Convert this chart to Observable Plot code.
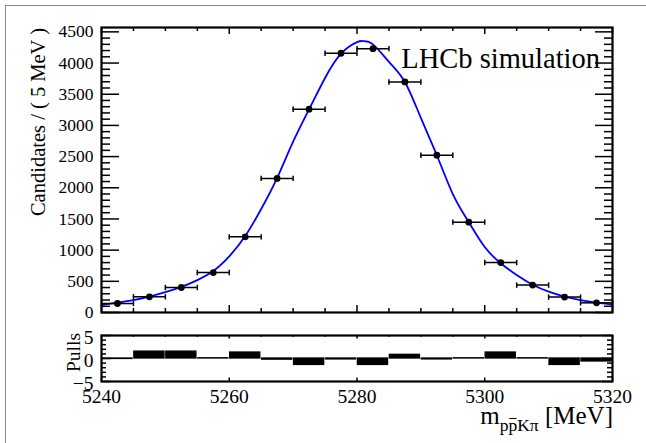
<!DOCTYPE html>
<html>
<head>
<meta charset="utf-8">
<script src="https://cdn.jsdelivr.net/npm/d3@7"></script>
<script src="https://cdn.jsdelivr.net/npm/@observablehq/plot@0.6"></script>
<style>
  html, body { margin: 0; padding: 0; background: #fff; }
  #wrap { position: relative; width: 646px; height: 443px; overflow: hidden; background: #fff; }
  #wrap > * { position: absolute; }
  #border { left: 5px; top: 4.5px; width: 700px; height: 500px; border-top: 1.5px solid #8a8a8a; border-left: 1.5px solid #8a8a8a; }
</style>
</head>
<body>
<div id="wrap"><div id="border"></div></div>
<script>
// ---------------- data ----------------
const binEdges = [5240, 5245, 5250, 5255, 5260, 5265, 5270, 5275, 5280, 5285, 5290, 5295, 5300, 5305, 5310, 5315, 5320];
const binCenters = [5242.5, 5247.5, 5252.5, 5257.5, 5262.5, 5267.5, 5272.5, 5277.5, 5282.5, 5287.5, 5292.5, 5297.5, 5302.5, 5307.5, 5312.5, 5317.5];
const candidates = [144, 252, 401, 641, 1213, 2150, 3260, 4157, 4231, 3697, 2522, 1449, 801, 439, 247, 155];
const pulls = [-0.1, 1.5, 1.5, 0.05, 1.3, -0.25, -1.4, -0.2, -1.4, 0.8, -0.2, 0.05, 1.3, 0.05, -1.4, -0.65];
const fitMass = [5240, 5242.5, 5245, 5247.5, 5250, 5252.5, 5255, 5257.5, 5260, 5262.5, 5265, 5267.5, 5270, 5272.5, 5275, 5277.5, 5280, 5281, 5282.5, 5285, 5287.5, 5290, 5292.5, 5295, 5297.5, 5300, 5302.5, 5305, 5307.5, 5310, 5312.5, 5315, 5317.5, 5320];
const fitValue = [123, 160, 200, 255, 325, 410, 520, 665, 900, 1225, 1660, 2160, 2740, 3260, 3760, 4150, 4335, 4352, 4300, 4020, 3697, 3120, 2522, 1900, 1449, 1050, 790, 600, 445, 335, 256, 200, 160, 128];
const xTicks = [5240, 5260, 5280, 5300, 5320];
const yTicks = [0, 500, 1000, 1500, 2000, 2500, 3000, 3500, 4000, 4500];
const pullTicks = [-5, 0, 5];
const yTitle = "Candidates / ( 5 MeV )";
const pullTitle = "Pulls";
const tag = "LHCb simulation";

// ---------------- derived tables ----------------
const points = binCenters.map((c, i) => ({c, lo: binEdges[i], hi: binEdges[i + 1], n: candidates[i], p: pulls[i]}));
const fit = fitMass.map((m, i) => ({m, v: fitValue[i]}));
const xMinor = d3.range(5240, 5321, 5).filter(v => !xTicks.includes(v));
const yMinor = d3.range(0, 4501, 100).filter(v => !yTicks.includes(v));
const pMinor = d3.range(-4, 5, 1).filter(v => !pullTicks.includes(v));

const FONT = "Liberation Serif";
const W = 646;
const mL = 101, mR = 34;
const innerW = W - mL - mR;

// cap symbol for error-bar ends
const cap = {draw(ctx) { ctx.moveTo(0, -2.7); ctx.lineTo(0, 2.7); }};

// ---------------- main panel ----------------
const H1 = 320, mT1 = 27, mB1 = 8;
const innerH1 = H1 - mT1 - mB1;
const main = Plot.plot({
  width: W, height: H1,
  marginLeft: mL, marginRight: mR, marginTop: mT1, marginBottom: mB1,
  style: {fontFamily: FONT, background: "transparent", overflow: "visible", color: "black"},
  x: {domain: [5240, 5320], axis: null},
  y: {domain: [0, 4570], axis: null},
  marks: [
    Plot.line(fit, {x: "m", y: "v", stroke: "#0000ff", strokeWidth: 1.8, curve: "natural", clip: true}),
    Plot.ruleY(points, {y: "n", x1: "lo", x2: "hi", stroke: "black", strokeWidth: 1.5}),
    Plot.dot(points, {x: "lo", y: "n", symbol: cap, r: 3, stroke: "black", strokeWidth: 1.5, fill: "none"}),
    Plot.dot(points, {x: "hi", y: "n", symbol: cap, r: 3, stroke: "black", strokeWidth: 1.5, fill: "none"}),
    Plot.dot(points, {x: "c", y: "n", r: 3.4, fill: "black", stroke: "none"}),
    // ticks (inward)
    Plot.tickX(xTicks, {x: d => d, insetTop: innerH1 - 7, stroke: "black", strokeWidth: 1.5}),
    Plot.tickX(xMinor, {x: d => d, insetTop: innerH1 - 4, stroke: "black", strokeWidth: 1.5}),
    Plot.tickX(xTicks, {x: d => d, insetBottom: innerH1 - 7, stroke: "black", strokeWidth: 1.5}),
    Plot.tickX(xMinor, {x: d => d, insetBottom: innerH1 - 4, stroke: "black", strokeWidth: 1.5}),
    Plot.tickY(yTicks, {y: d => d, insetRight: innerW - 18, stroke: "black", strokeWidth: 1.5}),
    Plot.tickY(yMinor, {y: d => d, insetRight: innerW - 9, stroke: "black", strokeWidth: 1.5}),
    Plot.tickY(yTicks, {y: d => d, insetLeft: innerW - 17, stroke: "black", strokeWidth: 1.5}),
    Plot.tickY(yMinor, {y: d => d, insetLeft: innerW - 8, stroke: "black", strokeWidth: 1.5}),
    Plot.text(yTicks, {y: d => d, text: d => String(d), frameAnchor: "left", dx: -8, textAnchor: "end", fontSize: 17.5, fontFamily: FONT, fill: "black"}),
    Plot.frame({stroke: "black", strokeWidth: 2.2})
  ]
});
main.style.left = "0px"; main.style.top = "0px";

// ---------------- pulls panel ----------------
const H2 = 123, mT2 = 15, mB2 = 62;
const innerH2 = H2 - mT2 - mB2;
const pull = Plot.plot({
  width: W, height: H2,
  marginLeft: mL, marginRight: mR, marginTop: mT2, marginBottom: mB2,
  style: {fontFamily: FONT, background: "transparent", overflow: "visible", color: "black"},
  x: {domain: [5240, 5320], axis: null},
  y: {domain: [-5, 5], axis: null},
  marks: [
    Plot.rect(points, {x1: "lo", x2: "hi", y1: () => 0, y2: "p", fill: "black", stroke: "black", strokeWidth: 1.3, insetLeft: 0.9, insetRight: 0.9}),
    Plot.tickX(xTicks, {x: d => d, insetTop: innerH2 - 3.5, stroke: "black", strokeWidth: 1.5}),
    Plot.tickX(xTicks, {x: d => d, insetBottom: innerH2 - 3.5, stroke: "black", strokeWidth: 1.5}),
    Plot.tickX(xMinor, {x: d => d, insetBottom: innerH2 - 2, stroke: "black", strokeWidth: 1.2}),
    Plot.tickY(pullTicks, {y: d => d, insetRight: innerW - 10, stroke: "black", strokeWidth: 1.5}),
    Plot.tickY(pMinor, {y: d => d, insetRight: innerW - 5, stroke: "black", strokeWidth: 1.5}),
    Plot.tickY(pullTicks, {y: d => d, insetLeft: innerW - 10, stroke: "black", strokeWidth: 1.5}),
    Plot.tickY(pMinor, {y: d => d, insetLeft: innerW - 5, stroke: "black", strokeWidth: 1.5}),
    Plot.text(pullTicks, {y: d => d, text: d => d < 0 ? "\u2212" + Math.abs(d) : String(d), frameAnchor: "left", dx: -8, dy: 2.5, textAnchor: "end", fontSize: 19.5, fontFamily: FONT, fill: "black"}),
    Plot.text(xTicks, {x: d => d, text: d => String(d), frameAnchor: "bottom", dy: 8, lineAnchor: "top", fontSize: 19.5, fontFamily: FONT, fill: "black"}),
    Plot.frame({stroke: "black", strokeWidth: 2.2})
  ]
});
pull.style.left = "0px"; pull.style.top = "320px";

// ---------------- titles overlay ----------------
const ns = "http://www.w3.org/2000/svg";
const ov = document.createElementNS(ns, "svg");
ov.setAttribute("width", W); ov.setAttribute("height", 443);
ov.style.left = "0px"; ov.style.top = "0px"; ov.style.pointerEvents = "none";
ov.setAttribute("font-family", FONT);
ov.innerHTML = `
  <text transform="translate(45,28) rotate(-90)" text-anchor="end" font-size="20.5">${yTitle}</text>
  <text transform="translate(80,333) rotate(-90)" text-anchor="end" font-size="19.5">${pullTitle}</text>
  <text x="600" y="68" text-anchor="end" font-size="28.5">${tag}</text>
  <text id="xt" x="613" y="424" text-anchor="end" font-size="25">m<tspan font-size="17.5" dy="7">pp</tspan><tspan font-size="17.5">K&#960;</tspan><tspan font-size="25" dy="-7"> [MeV]</tspan></text>
`;

const wrap = document.getElementById("wrap");
wrap.appendChild(main);
wrap.appendChild(pull);
wrap.appendChild(ov);

// bar over the second "p" (antiproton) in the x-axis title
const xt = ov.querySelector("#xt");
const ext = xt.getExtentOfChar(2);
const bar = document.createElementNS(ns, "line");
bar.setAttribute("x1", ext.x + 0.8); bar.setAttribute("x2", ext.x + ext.width - 0.8);
bar.setAttribute("y1", 418.5); bar.setAttribute("y2", 418.5);
bar.setAttribute("stroke", "black"); bar.setAttribute("stroke-width", 1);
ov.appendChild(bar);
</script>
</body>
</html>
